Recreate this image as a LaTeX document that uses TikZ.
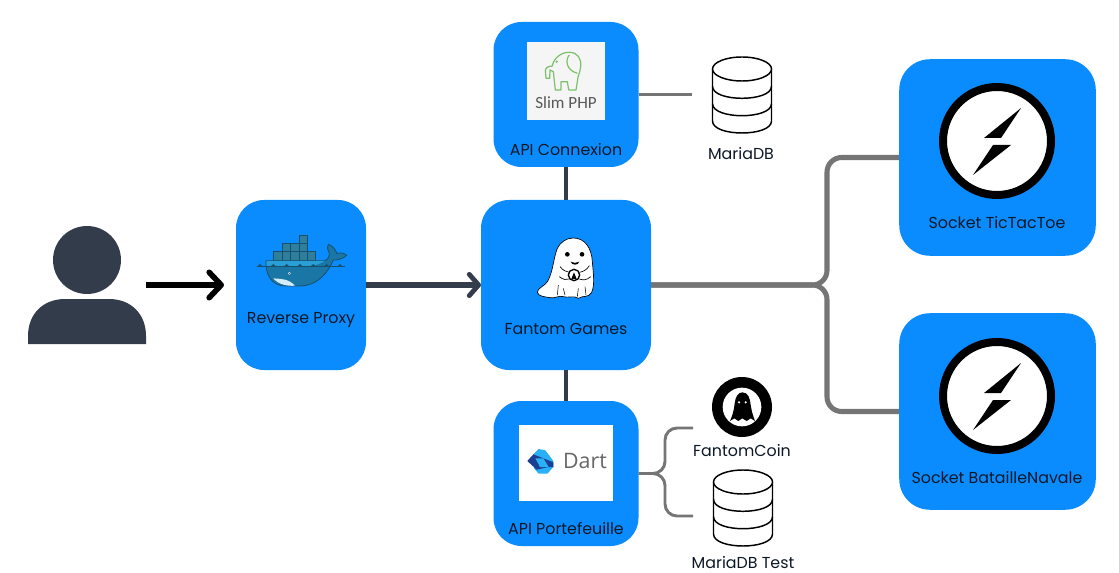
\documentclass[tikz,border=0pt]{standalone}
\usepackage{fontspec}
\usepackage{xcolor}
\usepackage{tikz}
\usetikzlibrary{arrows.meta,positioning}
\setmainfont{Poppins}
\newfontfamily\slimfont{Carlito}
\newfontfamily\dartfont{Open Sans}
\definecolor{tileblue}{HTML}{0A8CFF}
\definecolor{slate}{HTML}{333C4A}
\definecolor{wire}{HTML}{757575}
\definecolor{inkblack}{HTML}{0C1826}
\definecolor{elephant}{HTML}{7CC06B}
\definecolor{whaleline}{HTML}{17506E}
\definecolor{whalebody}{HTML}{1A76A4}
\definecolor{whaledeck}{HTML}{2A9FD6}
\definecolor{crate}{HTML}{2D7F9C}
\definecolor{dartnavy}{HTML}{1C3F94}
\definecolor{dartsky}{HTML}{29B0F6}
\tikzset{
    tile/.style={rectangle, fill=tileblue, rounded corners=21pt, inner sep=0pt, outer sep=0pt},
    tilesmall/.style={tile, minimum width=108.75pt, minimum height=108.75pt},
    tilesocket/.style={tile, rounded corners=23pt, minimum width=147.4pt, minimum height=147.4pt},
    caption/.style={inner sep=0pt, yshift=-1.7pt, text height=8.2pt, text depth=2.4pt, font=\fontsize{11.9}{14}\selectfont, text=inkblack},
    logobox/.style={rectangle, inner sep=0pt},
    darkline/.style={draw=slate, line width=3.6pt},
    arrow/.style={-{Straight Barb[length=7pt,width=16pt,round,line width=3.6pt]}, line width=3.8pt, draw=slate},
    bigarrow/.style={-{Straight Barb[length=9pt,width=19pt,round,line width=4.2pt]}, line width=4.4pt, draw=black, shorten >=9pt},
    bus/.style={draw=wire, line width=3.8pt, rounded corners=11pt},
    sidewire/.style={draw=wire, line width=2.2pt, rounded corners=9pt},
    dbicon/.pic={
        \draw[line width=1.1pt, fill=white] (-29.5,-26) -- (-29.5,26) .. controls (-29.5,42) and (29.5,42) .. (29.5,26) -- (29.5,-26);
        \draw[line width=1.1pt, fill=white] (0,-26) ellipse [x radius=29.5, y radius=12];
        \foreach \lev in {-8.7,8.7}
            \draw[line width=1.1pt] (-29.5,\lev) .. controls (-29.5,\lev+16) and (29.5,\lev+16) .. (29.5,\lev);
    },
    socketicon/.pic={
        \draw[line width=6pt, fill=white] (0,0) circle (54);
        \fill (24,-33) -- (-13,-3) -- (4,-3) -- cycle;
        \fill (-24,34) -- (14,4) -- (-4,4) -- cycle;
    }
}

\begin{document}
\begin{tikzpicture}[x=0.75pt, y=-0.75pt]
\useasboundingbox (0,0) rectangle (1119,573);

% Nodes
\node[tile, minimum width=97.5pt, minimum height=127.5pt] (proxy) at (301,285) {};
\node[tile, minimum width=127.5pt, minimum height=127.5pt, right=86.25pt of proxy] (games) {};
\node[tilesmall, above=24.75pt of games] (connexion) {};
\node[tilesmall, below=23.25pt of games] (wallet) {};
\node[tilesocket] (tictactoe) at (997.5,157.5) {};
\node[tilesocket, below=43.1pt of tictactoe] (bataille) {};

\node[caption] (proxytext) at (301,317) {Reverse Proxy};
\node[caption] (gamestext) at (566,328) {Fantom Games};
\node[caption] (connexiontext) at (566,149) {API Connexion};
\node[caption] (wallettext) at (566,528) {API Portefeuille};
\node[caption] (tictext) at (997,222) {Socket TicTacToe};
\node[caption] (batailletext) at (997,477) {Socket BatailleNavale};
\node[caption] (mariatext) at (741,153) {MariaDB};
\node[caption] (cointext) at (742,450) {FantomCoin};
\node[caption] (testtext) at (743,562) {MariaDB Test};

\node[logobox, fill=black!4, minimum width=58.5pt, minimum height=58.5pt] (slimlogo) at (566,81) {};
\node[logobox, text=black!65, font=\slimfont\fontsize{12.8}{15}\selectfont] (slimtext) at (566,103) {Slim PHP};
\node[logobox, fill=white, minimum width=70.5pt, minimum height=57pt] (dartlogo) at (566,463) {};
\node[logobox, text=black!60, font=\dartfont\fontsize{16}{18}\selectfont] (darttext) at (585,461) {Dart};
\node[circle, fill=black, inner sep=0pt, minimum size=45pt] (coin) at (742,407) {};
\node[circle, fill=white, inner sep=0pt, minimum size=29pt] (coininner) at (742,407) {};

\pic at (742,95) {dbicon};
\pic at (743,508) {dbicon};
\pic at (997,141) {socketicon};
\pic at (997,396) {socketicon};

% User
\fill[slate] (87,260) circle (34);
\fill[slate] (28,344) -- (28,336) .. controls (28,314) and (43,299) .. (65,299) -- (109,299) .. controls (131,299) and (146,314) .. (146,336) -- (146,344) -- cycle;
\coordinate (user) at (146,285);

% Elephant
\begin{scope}[shift={(490,10)}, x=0.25pt, y=-0.25pt]
\draw[elephant, line width=0.9pt, line join=round] (168,205) -- (166,180) .. controls (168,170) and (180,168) .. (187,168) .. controls (190,145) and (215,125) .. (240,127) .. controls (262,128) and (275,145) .. (272,170) .. controls (270,190) and (262,200) .. (262,215) -- (258,240) -- (236,240) -- (232,215) -- (213,215) -- (213,240) -- (196,240) -- (190,185) -- (180,180) -- (179,205) -- cycle;
\draw[elephant, line width=0.9pt] (238,135) .. controls (225,150) and (228,180) .. (262,190);
\fill[elephant] (200,155) circle (4);
\end{scope}

% Dart
\begin{scope}[shift={(490,375)}, x=0.25pt, y=-0.25pt]
\fill[dartsky] (130,238) -- (146,222) -- (166,226) -- (190,258) -- (190,276) -- (172,296) -- (146,296) -- (132,280) -- cycle;
\fill[dartnavy] (112,258) -- (130,238) -- (190,262) -- (190,276) -- (176,276) -- (140,284) -- cycle;
\fill[dartsky] (136,250) -- (160,250) -- (176,276) -- (150,276) -- cycle;
\end{scope}

% Whale
\begin{scope}[shift={(230,195)}, x=0.25pt, y=-0.25pt]
\foreach \col in {0,...,4}
    \filldraw[draw=whaleline, fill=crate, line width=0.5pt] (131+\col*25.2,170) rectangle ++(25.2,27);
\foreach \col in {0,...,2}
    \filldraw[draw=whaleline, fill=crate, line width=0.5pt] (157+\col*25.2,146) rectangle ++(25.2,24);
\filldraw[draw=whaleline, fill=crate, line width=0.5pt] (207,121) rectangle ++(25.5,25);
\filldraw[draw=whaleline, fill=whalebody, line width=0.6pt] (108,197) -- (285,197) .. controls (296,192) and (300,180) .. (297,172) .. controls (290,165) and (292,155) .. (295,148) .. controls (308,152) and (318,165) .. (320,175) .. controls (332,172) and (344,175) .. (350,181) .. controls (338,192) and (322,196) .. (310,195) .. controls (295,230) and (265,272) .. (210,273) -- (165,273) .. controls (125,272) and (106,240) .. (108,197) -- cycle;
\fill[whaledeck] (110,198) -- (284,198) .. controls (270,208) and (250,213) .. (230,213) -- (110,213) -- cycle;
\fill[white!80!whaledeck] (130,250) .. controls (150,252) and (175,250) .. (195,272) .. controls (170,274) and (145,268) .. (130,250) -- cycle;
\draw[whaleline, line width=0.6pt] (80,215) -- (345,215);
\foreach \wave in {90,130,170,210,250,290,330}
    \fill[whaleline] (\wave-9,215) -- (\wave,207) -- (\wave+9,215) -- cycle;
\fill[white] (178,235) circle (4);
\fill[whaleline] (178,235) circle (2);
\end{scope}

% Ghost
\begin{scope}[shift={(230,195)}, x=0.25pt, y=-0.25pt]
\filldraw[fill=white, draw=black, line width=0.5pt, line join=round] (1030,129) .. controls (1065,129) and (1085,160) .. (1087,200) .. controls (1090,235) and (1095,270) .. (1085,292) .. controls (1075,310) and (1060,300) .. (1045,310) .. controls (1030,300) and (1015,310) .. (1000,305) .. controls (985,300) and (975,312) .. (960,308) .. controls (945,305) and (925,305) .. (922,292) .. controls (922,278) and (945,275) .. (955,255) .. controls (970,225) and (970,190) .. (982,160) .. controls (992,140) and (1010,129) .. (1030,129) -- cycle;
\fill (1012,178) circle (7);
\fill (1056,178) circle (7);
\fill (1022,200) .. controls (1030,205) and (1040,205) .. (1048,200) .. controls (1045,212) and (1025,212) .. (1022,200) -- cycle;
\draw[line width=0.5pt] (990,215) .. controls (1000,228) and (1010,230) .. (1018,232) (1078,212) .. controls (1070,226) and (1058,230) .. (1048,232) (988,245) .. controls (1000,255) and (1010,255) .. (1018,252) (1082,245) .. controls (1070,256) and (1060,256) .. (1048,252);
\draw[line width=1pt, fill=white] (1032,240) circle (17);
\fill (1032,232) -- (1040,252) -- (1024,252) -- cycle;
\draw[line width=0.4pt] (985,270) -- (982,300) (1000,280) -- (1005,300) (1045,280) -- (1042,305) (1065,275) -- (1068,300);
\end{scope}

% Coin ghost
\begin{scope}[shift={(490,375)}, x=0.25pt, y=-0.25pt]
\fill (757,52) .. controls (775,52) and (780,70) .. (782,90) .. controls (785,110) and (790,125) .. (795,138) -- (782,130) -- (770,138) -- (757,130) -- (745,138) -- (733,130) -- (720,138) .. controls (728,120) and (732,105) .. (734,85) .. controls (736,65) and (745,52) .. (757,52) -- cycle;
\fill[white] (747,82) circle (3.5);
\fill[white] (767,82) circle (3.5);
\end{scope}

% Edges
\coordinate (busjoint) at (827,285);
\coordinate (walletjoint) at (665,473.5);
\coordinate (coinend) at (693,428);
\coordinate (testend) at (693,516);
\coordinate (mariaend) at (692,94.5);

\draw[bigarrow] (user) -- (proxy);
\draw[arrow] (proxy) -- (games);
\draw[darkline] (connexion) -- (games);
\draw[darkline] (games) -- (wallet);
\draw[bus] (games.east) -- (busjoint) -- (busjoint |- tictactoe.west) -- (tictactoe.west);
\draw[bus] (games.east) -- (busjoint) -- (busjoint |- bataille.west) -- (bataille.west);
\draw[sidewire] (connexion.east) -- (mariaend);
\draw[sidewire] (wallet.east) -- (walletjoint) -- (walletjoint |- coinend) -- (coinend);
\draw[sidewire] (wallet.east) -- (walletjoint) -- (walletjoint |- testend) -- (testend);

\end{tikzpicture}
\end{document}
